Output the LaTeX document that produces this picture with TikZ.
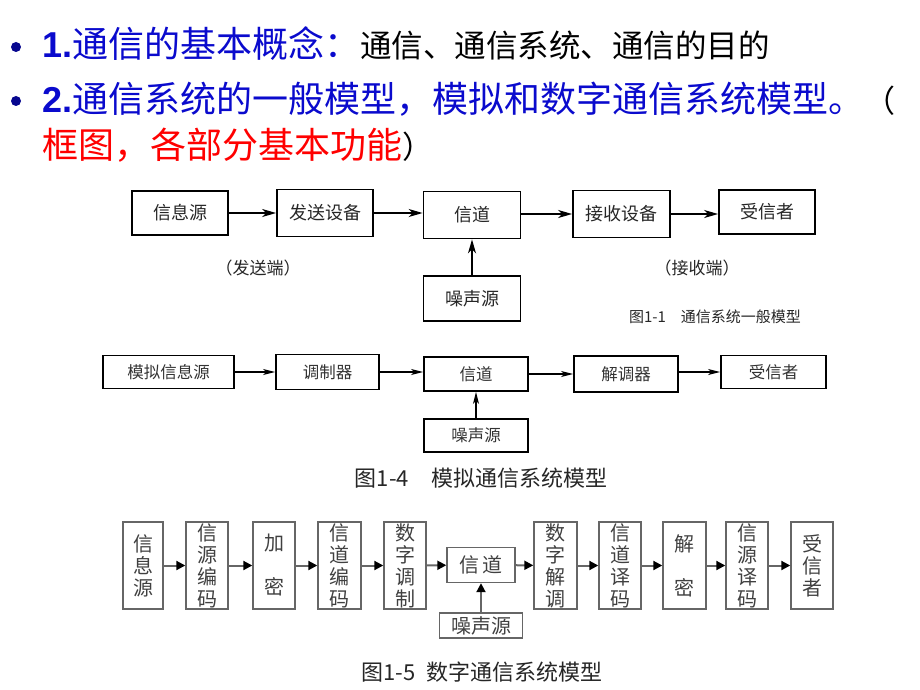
\documentclass[tikz,border=0pt]{standalone}
\usepackage{fontspec}
\setmainfont{Liberation Sans}
\newfontfamily\cjk{Noto Sans CJK SC}
\usetikzlibrary{arrows.meta}
\definecolor{tblue}{RGB}{10,10,205}
\definecolor{tred}{RGB}{255,0,0}
\tikzset{
  b1/.style={draw, line width=1.8pt, minimum width=96pt, minimum height=45pt, inner sep=0pt, text=black!85, font=\cjk\fontsize{18}{20}\selectfont},
  a1/.style={-{Stealth[length=14pt,width=8pt,inset=4pt]}, line width=1.8pt},
  b2/.style={draw, line width=1.8pt, minimum width=104pt, minimum height=34pt, inner sep=0pt, text=black!80, font=\cjk\fontsize{16.5}{19}\selectfont},
  a2/.style={-{Stealth[length=12pt,width=6pt,inset=3pt]}, line width=1.4pt},
  b3/.style={draw=black!60, line width=1.4pt, minimum width=42pt, minimum height=87pt, inner sep=0pt, align=center, text=black!75, font=\cjk\fontsize{20}{22}\selectfont},
  a3/.style={-{Triangle[length=9pt,width=9pt,color=black]}, draw=black!60, line width=2pt},
  captext/.style={inner sep=0pt, text=black!85},
  bulletmark/.style={circle, fill=tblue!70!black, inner sep=0pt, minimum size=10pt},
}
\begin{document}
\begin{tikzpicture}[x=1pt,y=-1pt]
\useasboundingbox (0,0) rectangle (920,690);
% title lines
\node[bulletmark] (bul1) at (16,47) {};
\node[bulletmark] (bul2) at (16,101) {};
\node[inner sep=0pt, anchor=base west, font=\fontsize{36}{40}\selectfont] (l1) at (42,58)
  {\textcolor{tblue}{\bfseries 1.}\textcolor{tblue}{\cjk 通信的基本概念：}{\cjk\fontsize{31.5}{36}\selectfont 通信、通信系统、通信的目的}};
\node[inner sep=0pt, anchor=base west, font=\fontsize{36}{40}\selectfont] (l2) at (42,113)
  {\textcolor{tblue}{\bfseries 2.}\textcolor{tblue}{\cjk 通信系统的一般模型，模拟和数字通信系统模型。}{\cjk\fontsize{31}{36}\selectfont （}};
\node[inner sep=0pt, anchor=base west, font=\fontsize{36}{40}\selectfont] (l3) at (42,158)
  {\textcolor{tred}{\cjk 框图，各部分基本功能}{\cjk\fontsize{31}{36}\selectfont ）}};

% diagram 1
\node[b1, minimum height=44pt] (s1) at (180,213) {信息源};
\node[b1, minimum height=47pt] (t1) at (325,213) {发送设备};
\node[b1, minimum height=47pt, minimum width=97pt] (c1) at (472,215) {信道};
\node[b1, minimum height=47pt, minimum width=97pt] (r1) at (621.5,214) {接收设备};
\node[b1, minimum height=44pt] (d1) at (767,212) {受信者};
\node[b1, minimum width=97pt] (n1) at (472,298.5) {噪声源};
\draw[a1] (s1) -- (t1);
\draw[a1] (t1.east) -- (t1.east -| c1.west);
\draw[a1] (c1.east |- r1.west) -- (r1.west);
\draw[a1] (r1.east) -- (r1.east -| d1.west);
\draw[a1] (n1) -- (c1);
\node[captext, font=\cjk\fontsize{17}{20}\selectfont] (e1) at (258,268) {（发送端）};
\node[captext, font=\cjk\fontsize{17}{20}\selectfont] (e2) at (697,268) {（接收端）};
\node[captext, font=\cjk\fontsize{15}{18}\selectfont] (cap1) at (715,317) {图1-1\quad 通信系统一般模型};

% diagram 2
\node[b2, minimum width=131pt, minimum height=33pt] (s2) at (168.5,372) {模拟信息源};
\node[b2, minimum width=103pt, minimum height=35pt] (m2) at (327.5,372) {调制器};
\node[b2] (c2) at (476,374) {信道};
\node[b2, minimum height=36pt] (dm2) at (626,374) {解调器};
\node[b2, minimum width=105pt, minimum height=33pt] (d2) at (773.5,372) {受信者};
\node[b2, minimum height=33pt] (n2) at (476,435.5) {噪声源};
\draw[a2] (s2) -- (m2);
\draw[a2] (m2.east) -- (m2.east -| c2.west);
\draw[a2] (c2) -- (dm2);
\draw[a2] (dm2.east |- d2.west) -- (d2.west);
\draw[a2] (n2) -- (c2);
\node[captext, font=\cjk\fontsize{22}{26}\selectfont] (cap2) at (481,478) {图1-4\quad 模拟通信系统模型};

% diagram 3
\node[b3, minimum width=40pt] (q1) at (143,565.5) {信\\息\\源};
\node[b3] (q2) at (207,565.5) {信\\源\\编\\码};
\node[b3] (q3) at (274,565.5) {加\\[22pt]密};
\node[b3, minimum width=43pt] (q4) at (339.5,565.5) {信\\道\\编\\码};
\node[b3] (q5) at (405,565.5) {数\\字\\调\\制};
\node[b3, minimum width=68pt, minimum height=35pt] (q6) at (481,565) {信\,道};
\node[b3, minimum width=43pt] (q7) at (555.5,565.5) {数\\字\\解\\调};
\node[b3] (q8) at (620,565.5) {信\\道\\译\\码};
\node[b3, minimum width=43pt] (q9) at (684.5,565.5) {解\\[22pt]密};
\node[b3] (q10) at (747,565.5) {信\\源\\译\\码};
\node[b3] (q11) at (812,565.5) {受\\信\\者};
\node[b3, minimum width=83pt, minimum height=25pt] (q12) at (481,625.5) {噪声源};
\foreach \a/\b in {q1/q2,q2/q3,q3/q4,q4/q5,q5/q6,q6/q7,q7/q8,q8/q9,q9/q10,q10/q11}
  \draw[a3] (\a) -- (\b);
\draw[a3] (q12) -- (q6);
\node[captext, font=\cjk\fontsize{22}{26}\selectfont] (cap3) at (482,672) {图1-5\; 数字通信系统模型};
\end{tikzpicture}
\end{document}
